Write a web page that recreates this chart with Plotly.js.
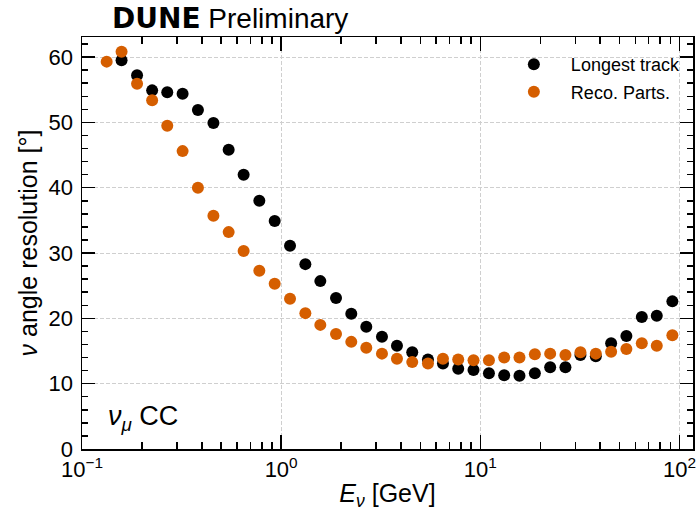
<!DOCTYPE html>
<html>
<head>
<meta charset="utf-8">
<script src="https://cdn.plot.ly/plotly-3.0.1.min.js"></script>
<style>html,body{margin:0;padding:0;background:#fff;}#chart{width:697px;height:511px;}</style>
</head>
<body>
<div id="chart"></div>
<script>
// Neutrino energy bin positions [GeV]
var energy = [0.133, 0.158, 0.189, 0.225, 0.268, 0.320, 0.382, 0.457, 0.545, 0.648,
              0.777, 0.928, 1.108, 1.323, 1.573, 1.886, 2.250, 2.676, 3.208, 3.815,
              4.552, 5.459, 6.493, 7.746, 9.245, 11.05, 13.18, 15.73, 18.79, 22.43,
              26.76, 31.83, 38.02, 45.39, 54.15, 64.70, 76.93, 92.13];
// Angular resolution [deg], longest track method
var longestTrack = [null, 59.5, 57.2, 54.9, 54.6, 54.4, 51.9, 49.9, 45.8, 42.0,
                    38.0, 34.9, 31.1, 28.3, 25.7, 23.1, 20.7, 18.7, 17.2, 15.8,
                    14.8, 13.7, 13.1, 12.3, 12.1, 11.6, 11.3, 11.2, 11.6, 12.5,
                    12.5, 14.4, 14.2, 16.2, 17.3, 20.2, 20.4, 22.6];
// Angular resolution [deg], reconstructed particles method
var recoParts = [59.3, 60.8, 55.9, 53.4, 49.5, 45.6, 40.0, 35.7, 33.2, 30.3,
                 27.3, 25.3, 23.0, 20.8, 19.0, 17.6, 16.4, 15.5, 14.6, 13.8,
                 13.3, 13.1, 13.8, 13.7, 13.6, 13.6, 14.0, 14.0, 14.5, 14.6,
                 14.4, 14.8, 14.6, 14.9, 15.3, 16.2, 15.8, 17.4];
var seriesNames = ['Longest track', 'Reco. Parts.'];
var xTickVals = [0.1, 1, 10, 100];
var xTickText = ['10<sup>\u22121</sup>', '10<sup>0</sup>', '10<sup>1</sup>', '10<sup>2</sup>'];
var xMinorVals = [0.2, 0.3, 0.4, 0.5, 0.6, 0.7, 0.8, 0.9,
                  2, 3, 4, 5, 6, 7, 8, 9,
                  20, 30, 40, 50, 60, 70, 80, 90];

var FONT = 'Liberation Sans, Arial, Helvetica, sans-serif';

var traces = [
  {x: energy, y: longestTrack, name: seriesNames[0], type: 'scatter', mode: 'markers',
   marker: {color: '#000000', size: 12}, legendgroup: 'a', cliponaxis: false},
  {x: energy, y: recoParts, name: seriesNames[1], type: 'scatter', mode: 'markers',
   marker: {color: '#D55E00', size: 12}, legendgroup: 'b', cliponaxis: false}
];

var axisCommon = {
  showline: true, linecolor: '#000', linewidth: 1.5, mirror: 'allticks',
  ticks: 'inside', ticklen: 14, tickwidth: 1.5, tickcolor: '#000',
  showgrid: true, gridcolor: '#cfcfcf', griddash: '4px,2px', gridwidth: 1,
  zeroline: false, tickfont: {family: FONT, size: 22, color: '#000'}
};

var layout = {
  width: 697, height: 511,
  margin: {l: 82, r: 4, t: 37, b: 62},
  paper_bgcolor: '#fff', plot_bgcolor: '#fff',
  font: {family: FONT, color: '#000'},
  showlegend: true,
  legend: {x: 0.679, y: 0.978, xanchor: 'left', yanchor: 'top', bgcolor: 'rgba(0,0,0,0)',
           font: {family: FONT, size: 18, color: '#000'}, itemwidth: 64, tracegroupgap: 1},
  xaxis: Object.assign({}, axisCommon, {
    type: 'log', range: [-1.0, 2.068],
    tickmode: 'array', tickvals: xTickVals, ticktext: xTickText,
    minor: {tickmode: 'array', tickvals: xMinorVals, ticks: 'inside', ticklen: 7, tickwidth: 1.5, tickcolor: '#000', showgrid: false},
    title: {text: '<i>E</i><sub><i>\u03bd</i></sub> [GeV]', font: {family: FONT, size: 25, color: '#000'}, standoff: 6}
  }),
  yaxis: Object.assign({}, axisCommon, {
    range: [0, 63.07], tick0: 0, dtick: 10, ticklen: 13, ticklabelstandoff: 3,
    minor: {tickmode: 'linear', tick0: 0, dtick: 2, ticks: 'inside', ticklen: 6, tickwidth: 1.5, tickcolor: '#000', showgrid: false},
    title: {text: '<i>\u03bd</i> angle resolution [\u00b0]', font: {family: FONT, size: 25, color: '#000'}, standoff: 4}
  }),
  annotations: [
    {xref: 'paper', yref: 'paper', x: 0.046, y: 1.046, xanchor: 'left', yanchor: 'middle',
     text: '<span style="font-family:DejaVu Sans;font-weight:bold">DUNE</span> Preliminary', showarrow: false,
     font: {family: FONT, size: 28, color: '#000'}},
    {xref: 'paper', yref: 'paper', x: 0.040, y: 0.075, xanchor: 'left', yanchor: 'middle',
     text: '<i>\u03bd</i><sub><i>\u03bc</i></sub> CC', showarrow: false, font: {family: FONT, size: 27, color: '#000'}}
  ]
};

Plotly.newPlot('chart', traces, layout, {displayModeBar: false, staticPlot: true});
</script>
</body>
</html>
